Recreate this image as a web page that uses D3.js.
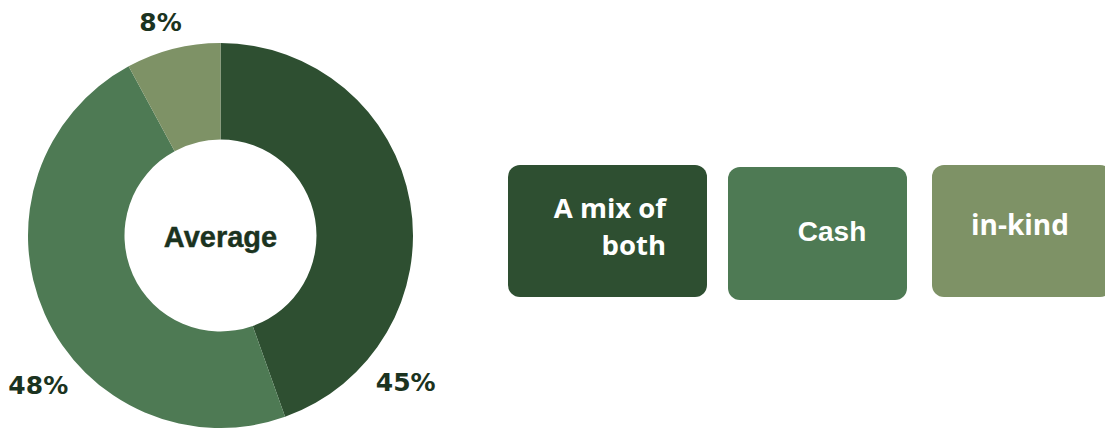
<!DOCTYPE html>
<html><head><meta charset="utf-8">
<script src="https://cdn.jsdelivr.net/npm/d3@7"></script>
<style>html,body{margin:0;padding:0;background:#fff;overflow:hidden}</style>
</head><body>
<svg id="chart" width="1105" height="428"></svg>
<script>
const categories = ["A mix of both", "Cash", "in-kind"];
const values = [45, 48, 8];
const valueLabels = ["45%", "48%", "8%"];
const legendLines = [["A mix of", "both"], ["Cash"], ["in-kind"]];
const colors = ["#2E4F31", "#4E7A54", "#7E9266"];
const centerTitle = "Average";

const svg = d3.select("#chart");
const cx = 220.5, cy = 235.5, rOuter = 192.5, rInner = 96;
const g = svg.append("g").attr("transform", `translate(${cx},${cy})`);

const pie = d3.pie().sort(null).value(d => d);
const arcs = pie(values);
const arc = d3.arc().innerRadius(rInner).outerRadius(rOuter);

g.selectAll("path.slice").data(arcs).enter().append("path")
  .attr("class", "slice")
  .attr("d", arc)
  .attr("fill", (d, i) => colors[i]);

// label placement: fraction through each slice and radius
const labelFrac = [0.8, 0.41, 0.45];
const labelR = [236, 236, 222];
g.selectAll("text.pct").data(arcs).enter().append("text")
  .attr("class", "pct")
  .attr("transform", (d, i) => {
    const a = d.startAngle + (d.endAngle - d.startAngle) * labelFrac[i];
    return `translate(${Math.sin(a) * labelR[i]},${-Math.cos(a) * labelR[i]})`;
  })
  .attr("text-anchor", "middle")
  .attr("dy", "0.36em")
  .attr("font-family", "DejaVu Sans")
  .attr("font-weight", "bold")
  .attr("font-size", 25)
  .attr("fill", "#1B3320")
  .text((d, i) => valueLabels[i]);

g.append("text")
  .attr("text-anchor", "middle")
  .attr("y", 11.5)
  .attr("font-family", "Liberation Sans")
  .attr("font-weight", "bold")
  .attr("font-size", 29)
  .attr("fill", "#1B3320")
  .attr("stroke", "#1B3320")
  .attr("stroke-width", 0.4)
  .text(centerTitle);

// legend boxes
const boxes = [
  {x: 508, y: 165, w: 199, h: 132, tx: 666, anchor: "end", ty: [218, 255], font: "Open Sans", size: 27.5},
  {x: 728, y: 167, w: 179, h: 133, tx: 832, anchor: "middle", ty: [241], font: "Liberation Sans", size: 28},
  {x: 932, y: 165, w: 180, h: 132, tx: 1020, anchor: "middle", ty: [235], font: "Open Sans", size: 28}
];
const lg = svg.append("g");
categories.forEach((c, i) => {
  const b = boxes[i];
  lg.append("rect").attr("x", b.x).attr("y", b.y).attr("width", b.w).attr("height", b.h)
    .attr("rx", 12).attr("ry", 12).attr("fill", colors[i]);
  legendLines[i].forEach((line, j) => {
    lg.append("text").attr("x", b.tx).attr("y", b.ty[j])
      .attr("text-anchor", b.anchor)
      .attr("font-family", b.font).attr("font-weight", "bold")
      .attr("font-size", b.size).attr("fill", "#ffffff")
      .text(line);
  });
});
</script>
</body></html>
